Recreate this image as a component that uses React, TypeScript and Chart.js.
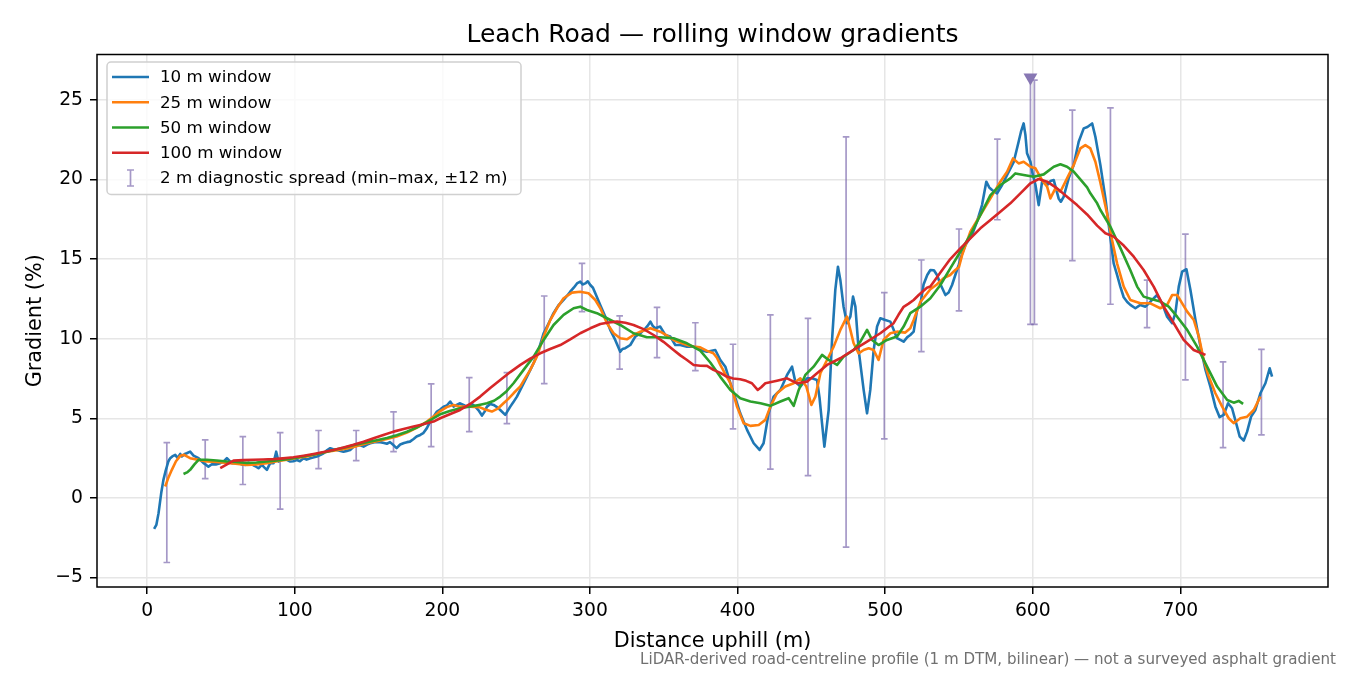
/**
 * Leach Road rolling-window gradient chart.
 * Chart.js line chart: four smoothing windows plus 2 m min–max spread bars.
 */
import React, { useEffect, useRef } from 'react';
import { Chart, registerables } from 'chart.js';

Chart.register(...registerables);

const FONT = '"DejaVu Sans", Verdana, sans-serif';

const chartTitle = 'Leach Road — rolling window gradients';
const xTitle = 'Distance uphill (m)';
const yTitle = 'Gradient (%)';
const footnote =
  'LiDAR-derived road-centreline profile (1 m DTM, bilinear) — not a surveyed asphalt gradient';

const xTicks = [0, 100, 200, 300, 400, 500, 600, 700];
const yTicks = [-5, 0, 5, 10, 15, 20, 25];

const seriesLabels = ['10 m window', '25 m window', '50 m window', '100 m window'];
const seriesColors = ['#1f77b4', '#ff7f0e', '#2ca02c', '#d62728'];
const spreadLabel = '2 m diagnostic spread (min–max, ±12 m)';
const SPREAD_COLOR = 'rgba(118, 98, 170, 0.66)';
const PEAK_COLOR = '#8777b3';

// [distance m, gradient %]
const window10m: [number, number][] = [
  [4.7, -1.95], [6.2, -1.7], [7.7, -0.96], [9.5, 0.3], [11, 1.13], [12.5, 1.7], [14.4, 2.3],
  [15.6, 2.49], [17, 2.6], [19, 2.7], [20.6, 2.5], [22.4, 2.76], [23.5, 2.6], [25.5, 2.75],
  [26.8, 2.8], [29.1, 2.9], [31.4, 2.65], [34.8, 2.49], [38.2, 2.18], [40, 2.07], [41.5, 1.96],
  [43.8, 2.11], [46.5, 2.1], [49.5, 2.18], [52, 2.3], [54, 2.49], [56, 2.3], [57.4, 2.18],
  [60, 2.2], [61.9, 2.18], [64, 2.1], [66.4, 2.07], [68.5, 2.2], [70.9, 2.11], [73, 2.0],
  [75.4, 1.86], [77.7, 2.07], [79.5, 1.9], [81.1, 1.76], [83.3, 2.18], [85.6, 2.18], [87.4, 2.9],
  [89, 2.28], [90.5, 2.4], [92.3, 2.49], [94.7, 2.39], [96.9, 2.28], [99, 2.3], [101.4, 2.38],
  [103.5, 2.3], [105.9, 2.49], [108, 2.4], [110.5, 2.49], [113, 2.55], [115, 2.6], [117.5, 2.7],
  [119.5, 2.8], [122, 3.0], [124, 3.12], [126, 3.05], [128.5, 3.0], [131, 2.95], [133, 2.9],
  [135.3, 2.95], [137.5, 3.0], [139.8, 3.2], [142.1, 3.33], [144.3, 3.3], [146.6, 3.22],
  [149, 3.35], [151.1, 3.43], [154, 3.5], [157.9, 3.5], [160.5, 3.45], [162.4, 3.4],
  [164.5, 3.5], [167, 3.3], [169, 3.12], [171.4, 3.35], [174, 3.45], [176, 3.5], [178, 3.53],
  [180.5, 3.7], [182.5, 3.85], [185, 3.95], [187, 4.06], [189.5, 4.38], [191.8, 4.8],
  [194, 5.1], [196.3, 5.42], [198.5, 5.55], [200.8, 5.73], [203, 5.8], [205.3, 6.05],
  [207.6, 5.73], [210, 5.85], [212, 5.94], [215, 5.8], [217.6, 5.73], [220, 5.9], [222.3, 5.73],
  [224.5, 5.5], [226.8, 5.17], [228.5, 5.4], [230.2, 5.73], [232.5, 5.9], [234.7, 5.84],
  [237, 5.7], [239.2, 5.52], [242.6, 5.21], [246, 5.73], [248, 6.0], [250.5, 6.36], [253.9, 6.99],
  [257.3, 7.62], [261.8, 8.46], [265.2, 9.29], [268.6, 10.34], [272, 10.97], [275.3, 11.6],
  [278.7, 12.1], [282.1, 12.43], [284.5, 12.7], [286.6, 12.95], [289, 13.2], [291.2, 13.47],
  [293.4, 13.58], [295, 13.4], [296.8, 13.47], [298.5, 13.6], [300.2, 13.37], [302, 13.2],
  [303.6, 12.85], [307, 12.1], [310.4, 11.38], [313.7, 10.55], [317.1, 9.92], [320.5, 9.18],
  [322, 9.35], [323.9, 9.4], [327.3, 9.6], [330.7, 10.13], [334.1, 10.34], [337.5, 10.65],
  [339, 10.8], [340.9, 11.07], [342.5, 10.8], [344.2, 10.65], [347.6, 10.76], [351, 10.23],
  [354.4, 10.13], [357.8, 9.6], [361.2, 9.6], [365.7, 9.5], [370.2, 9.5], [374.7, 9.29],
  [379.3, 9.18], [384.9, 9.29], [388.3, 8.66], [391.7, 8.24], [395.1, 7.2], [398.5, 6.26],
  [401.8, 5.31], [406.4, 4.27], [410.9, 3.43], [414.9, 3.01], [417.6, 3.43], [421, 5.31],
  [424.4, 6.36], [429, 6.78], [433.5, 7.72], [436.9, 8.24], [439.1, 7.3], [442.5, 6.99],
  [447, 7.51], [450.4, 7.51], [453.8, 7.41], [455.5, 6.3], [457.2, 4.69], [458.8, 3.22],
  [461.7, 5.52], [464, 9.92], [466.2, 13.06], [468, 14.52], [469.6, 13.69], [471.8, 12.01],
  [474.1, 10.97], [476.4, 11.38], [478.2, 12.64], [479.8, 12.01], [482, 9.29], [485.4, 6.78],
  [487.7, 5.31], [489.9, 6.78], [492.2, 9.29], [494.5, 10.76], [496.7, 11.28], [500.1, 11.17],
  [503.5, 11.07], [506, 10.5], [508, 10.03], [510.3, 9.92], [512.5, 9.81], [515, 10.1],
  [517, 10.23], [519.3, 10.44], [521.6, 11.8], [523.8, 12.12], [526, 13.4], [528.5, 14.0],
  [530.6, 14.31], [533, 14.3], [535.1, 14.0], [537.5, 13.4], [540.8, 12.74], [543, 12.9],
  [545.3, 13.37], [547.5, 14.0], [549.8, 14.63], [552, 15.3], [554.3, 15.88], [556.5, 16.2],
  [558.8, 16.51], [562.2, 17.35], [565.6, 18.39], [568.5, 19.86], [570.5, 19.5], [572.4, 19.34],
  [575.8, 19.13], [579.2, 19.65], [582.6, 20.28], [587.1, 21.11], [590.4, 22.37], [592, 23.0],
  [593.8, 23.52], [595, 22.8], [596.1, 21.64], [598.4, 21.11], [600, 20.3], [601.8, 19.65],
  [604, 18.39], [606.3, 19.86], [609.7, 19.65], [612, 19.9], [614.2, 19.96], [617.5, 18.81],
  [619, 18.6], [620.9, 18.91], [624.3, 20.07], [627.7, 20.9], [631.1, 22.37], [634.5, 23.21],
  [637, 23.3], [640.2, 23.52], [642.4, 22.68], [645.8, 20.9], [649.2, 18.81], [652.6, 16.3],
  [654.8, 14.73], [657.1, 14.0], [659.3, 13.27], [661.6, 12.6], [664, 12.3], [666.1, 12.12],
  [669.5, 11.91], [672.9, 12.12], [676.3, 12.01], [678.5, 12.2], [680.8, 12.43], [684.2, 12.74],
  [687.6, 12.22], [691, 11.38], [694.4, 10.97], [696.6, 11.6], [698.9, 13.27], [701.2, 14.21],
  [704.1, 14.36], [706.8, 13.06], [710.2, 11.17], [713.6, 9.5], [717, 8.04], [720.3, 6.99],
  [723.7, 5.73], [726.6, 5.07], [729.3, 5.21], [732.3, 5.94], [735, 5.63], [738.4, 4.48],
  [740.2, 3.85], [742.9, 3.6], [745.2, 4.16], [747.9, 5.1], [750.8, 5.52], [754.2, 6.57],
  [757.6, 7.2], [760.5, 8.14], [762.1, 7.62],
];

const window25m: [number, number][] = [
  [12.2, 0.71], [14.5, 1.3], [16.7, 1.76], [19.5, 2.3], [22.4, 2.64], [25, 2.7], [29.1, 2.49],
  [34, 2.4], [40.4, 2.28], [47, 2.25], [54, 2.2], [60, 2.15], [67.5, 2.07], [74, 2.1],
  [81.1, 2.17], [88, 2.3], [94.7, 2.39], [101, 2.5], [108.2, 2.6], [115, 2.75], [121.8, 2.9],
  [128.5, 3.0], [135.3, 3.1], [142, 3.25], [148.9, 3.43], [155.5, 3.55], [162.4, 3.7],
  [169, 3.85], [176, 4.1], [182.5, 4.4], [189.5, 4.79], [194, 5.1], [198.5, 5.45], [203, 5.7],
  [207.6, 5.84], [212, 5.73], [218.8, 5.73], [225, 5.7], [229, 5.55], [233.5, 5.42],
  [237.5, 5.6], [241.4, 5.94], [244.5, 6.2], [248.2, 6.57], [252.8, 7.0], [256, 7.5],
  [259.5, 8.04], [264, 8.87], [268.6, 10.13], [273.1, 11.17], [277.6, 11.91], [282.1, 12.54],
  [287.8, 12.89], [293.4, 12.95], [299, 12.85], [303.6, 12.43], [307, 11.91], [311.5, 10.97],
  [316, 10.34], [320.5, 10.03], [325, 9.96], [329.5, 10.23], [334.1, 10.44], [340.9, 10.65],
  [347.6, 10.44], [352, 10.2], [356.6, 9.92], [361, 9.75], [365.7, 9.6], [370, 9.5],
  [374.7, 9.45], [379, 9.25], [383.6, 9.08], [386, 8.8], [388.3, 8.35], [391.5, 7.8],
  [395.1, 7.2], [399.6, 5.73], [404.1, 4.69], [408.7, 4.52], [414.3, 4.58], [418.8, 4.9],
  [422.2, 5.73], [426.7, 6.57], [432.3, 6.99], [438, 7.2], [442.5, 7.51], [446.6, 6.99],
  [450, 5.84], [452.7, 6.36], [456.1, 7.83], [460.6, 8.66], [465.1, 9.5], [469.6, 10.55],
  [474.1, 11.38], [476.4, 10.55], [478.6, 9.71], [482, 9.08], [485.4, 9.29], [488.8, 9.4],
  [492.2, 9.29], [495.5, 8.66], [498.9, 9.92], [503.5, 10.34], [508, 10.44], [513.6, 10.38],
  [517, 10.65], [519.3, 11.17], [523.8, 12.3], [530.6, 13.1], [535, 13.4], [539.6, 13.8],
  [544, 14.0], [547.5, 14.31], [550, 14.5], [552.1, 15.25], [557.7, 16.72], [564.5, 17.77],
  [571.3, 18.81], [578, 19.86], [582.6, 20.49], [586.6, 21.32], [590.4, 21.01], [593.8, 21.11],
  [598.4, 20.8], [601.8, 20.7], [606.3, 19.96], [609.7, 19.55], [611.9, 18.81], [615.3, 19.44],
  [618.7, 19.23], [623.2, 20.07], [627.7, 20.9], [632.2, 21.95], [635.6, 22.16], [639, 21.95],
  [642.4, 21.11], [645.8, 19.8], [650.3, 17.87], [653.7, 16.2], [657.1, 14.73], [661.6, 13.27],
  [666.1, 12.43], [672.9, 12.22], [679.6, 12.22], [686.4, 11.91], [691, 12.12], [694.4, 12.74],
  [697.8, 12.74], [701.2, 12.22], [704.6, 11.7], [709.1, 11.17], [712.5, 10.13], [715.8, 8.66],
  [719.2, 7.62], [723.7, 6.57], [728.3, 5.73], [732.7, 5.0], [736.1, 4.69], [740.6, 5.0],
  [745.2, 5.1], [749.7, 5.52], [754.2, 6.36],
];

const window50m: [number, number][] = [
  [24.6, 1.5], [27, 1.6], [29.1, 1.76], [32, 2.1], [34.8, 2.39], [40.4, 2.39], [47, 2.35],
  [54, 2.28], [60, 2.25], [67.5, 2.2], [74, 2.22], [81.1, 2.28], [88, 2.35], [94.7, 2.43],
  [101, 2.52], [108.2, 2.64], [115, 2.76], [121.8, 2.9], [128.5, 3.05], [135.3, 3.2],
  [142, 3.36], [148.9, 3.5], [155.5, 3.62], [162.4, 3.76], [169, 3.93], [176, 4.15],
  [182.5, 4.42], [189.5, 4.75], [194, 5.0], [198.5, 5.25], [205, 5.45], [212, 5.63], [220, 5.75],
  [225.6, 5.85], [230.2, 5.94], [235, 6.1], [239.2, 6.36], [243.5, 6.7], [248.2, 7.2],
  [255, 8.04], [261.8, 8.87], [268.6, 9.92], [275.3, 10.86], [282.1, 11.49], [288.9, 11.91],
  [293.4, 12.01], [297.9, 11.8], [304.7, 11.6], [311.5, 11.28], [320.5, 10.86], [329.5, 10.34],
  [338.6, 10.09], [347.6, 10.09], [356.6, 10.03], [365.7, 9.71], [374.7, 9.25], [381.5, 8.5],
  [388.3, 7.6], [395.1, 6.78], [401.8, 6.26], [408.7, 6.05], [415.5, 5.94], [422.2, 5.78],
  [429, 6.05], [434.6, 6.26], [438, 5.78], [441.4, 6.78], [445.9, 7.72], [451.5, 8.24],
  [457.2, 8.98], [461.7, 8.66], [467.4, 8.35], [471.8, 8.87], [478.6, 9.29], [483.2, 9.81],
  [487.7, 10.55], [491.1, 9.92], [495.5, 9.6], [501.2, 9.92], [508, 10.13], [512.5, 10.76],
  [517, 11.6], [523.8, 12.01], [530.6, 12.54], [537.4, 13.37], [544.1, 14.42], [550.9, 15.46],
  [557.7, 16.51], [564.5, 17.77], [571.3, 19.02], [578, 19.65], [584.8, 20.07], [588.2, 20.38],
  [593.8, 20.28], [600.6, 20.17], [607.4, 20.32], [614.2, 20.8], [618.7, 20.95], [623.2, 20.8],
  [627.7, 20.49], [632.2, 20.0], [636.8, 19.5], [639, 19.13], [643.6, 18.5], [645.8, 18.08],
  [652.6, 17.03], [659.3, 15.7], [666.1, 14.3], [670.7, 13.27], [675.1, 12.64], [680.8, 12.47],
  [686.4, 12.33], [692.1, 12.01], [697.8, 11.38], [704.6, 10.55], [711.3, 9.5], [718.1, 8.24],
  [724.9, 6.99], [731.7, 6.15], [736.1, 5.98], [739.5, 6.09], [742.5, 5.9],
];

const window100m: [number, number][] = [
  [49.5, 1.86], [54, 2.1], [58.5, 2.34], [65, 2.37], [72, 2.39], [78.5, 2.41], [85.6, 2.43],
  [92, 2.48], [99.1, 2.55], [106, 2.65], [112.7, 2.76], [119.5, 2.88], [126.2, 3.01],
  [133, 3.16], [139.8, 3.33], [146.6, 3.53], [153.4, 3.75], [160, 3.95], [166.9, 4.16],
  [173.7, 4.32], [180.5, 4.48], [185, 4.58], [194, 4.79], [198.5, 5.0], [205, 5.25],
  [212, 5.52], [218.8, 5.9], [225.6, 6.36], [232.4, 6.9], [239.2, 7.41], [246, 7.9],
  [252.8, 8.35], [259.5, 8.75], [266.3, 9.08], [273, 9.35], [279.9, 9.6], [286.6, 9.95],
  [293.4, 10.34], [300.2, 10.65], [307, 10.92], [312.6, 11.02], [318.3, 11.07], [324, 11.0],
  [329.5, 10.86], [336.3, 10.6], [343.1, 10.23], [349.8, 9.8], [356.6, 9.29], [361.2, 8.95],
  [365.7, 8.66], [370.2, 8.35], [374.7, 8.3], [379.3, 8.29], [383.6, 8.04], [388.3, 7.85],
  [392.6, 7.62], [397, 7.5], [401.8, 7.45], [405.8, 7.35], [409.7, 7.2], [413.6, 6.78],
  [416, 6.95], [418.8, 7.2], [426.7, 7.36], [433.5, 7.51], [437, 7.35], [440.3, 7.2],
  [447, 7.3], [453.8, 7.83], [460.6, 8.35], [469.6, 8.77], [478.6, 9.29], [487.7, 9.81],
  [496.7, 10.34], [505.7, 10.97], [509, 11.5], [512.5, 12.0], [515.9, 12.2], [519.3, 12.43],
  [522.7, 12.74], [528.3, 13.2], [530.6, 13.27], [537.4, 14.15], [544.1, 15.0], [550.9, 15.67],
  [557.7, 16.3], [564.5, 16.93], [571.3, 17.45], [578, 17.97], [584.8, 18.5], [591.6, 19.13],
  [598.4, 19.76], [604, 20.03], [609.7, 19.86], [616.5, 19.44], [623.2, 18.91], [630, 18.39],
  [636.8, 17.8], [643.6, 17.1], [649.2, 16.62], [654.8, 16.41], [661.6, 15.85], [668.4, 15.15],
  [675.1, 14.31], [681.9, 13.27], [688.7, 12.01], [695.5, 10.97], [702.2, 9.92], [709, 9.29],
  [717, 8.98],
];

// 2 m diagnostic spread: bar positions with min / max gradient
const spreadDist = [
  13.3, 39.3, 64.8, 90.1, 116.1, 141.6, 166.9, 192.4, 218.2, 243.7, 269, 294.6, 320.1, 345.4,
  371.4, 396.9, 422.2, 447.7, 473.5, 499.4, 524.5, 550, 576, 598.4, 601.1, 626.8, 652.6, 677.4,
  703.4, 728.9, 754.9,
];
const spreadMin = [
  -4.06, 1.21, 0.84, -0.71, 1.84, 2.34, 2.9, 3.22, 4.16, 4.66, 7.18, 11.7, 8.08, 8.81, 7.99,
  4.33, 1.8, 1.4, -3.1, 3.7, 9.18, 11.74, 17.47, 10.9, 10.9, 14.9, 12.16, 10.69, 7.41, 3.16, 3.95,
];
const spreadMax = [
  3.47, 3.64, 3.85, 4.1, 4.23, 4.23, 5.4, 7.16, 7.55, 7.87, 12.68, 14.73, 11.43, 11.97, 11.0,
  9.65, 11.49, 11.27, 22.68, 12.89, 14.94, 16.89, 22.54, 26.3, 26.24, 24.36, 24.5, 13.68, 16.57,
  8.54, 9.33,
];
const peakMarker = { x: 598.4, y: 26.4 };

const allSeries = [window10m, window25m, window50m, window100m];

const fmtTick = (v: number) => (v < 0 ? `\u2212${Math.abs(v)}` : `${v}`);

// error bars drawn beneath the lines, through the chart's own scales
const spreadPlugin = {
  id: 'spreadBars',
  beforeDatasetsDraw(chart: Chart) {
    const { ctx, chartArea, scales } = chart;
    const xs = scales.x;
    const ys = scales.y;
    ctx.save();
    ctx.beginPath();
    ctx.rect(chartArea.left, chartArea.top, chartArea.width, chartArea.height);
    ctx.clip();
    ctx.strokeStyle = SPREAD_COLOR;
    ctx.lineWidth = 1.7;
    const cap = 3.3;
    spreadDist.forEach((d, i) => {
      const px = xs.getPixelForValue(d);
      const lo = ys.getPixelForValue(spreadMin[i]);
      const hi = ys.getPixelForValue(spreadMax[i]);
      ctx.beginPath();
      ctx.moveTo(px, lo);
      ctx.lineTo(px, hi);
      ctx.moveTo(px - cap, lo);
      ctx.lineTo(px + cap, lo);
      ctx.moveTo(px - cap, hi);
      ctx.lineTo(px + cap, hi);
      ctx.stroke();
    });
    ctx.restore();
  },
};

// title over the axes, full axes box, in-plot legend and the footnote
const decorPlugin = {
  id: 'decor',
  afterDraw(chart: Chart) {
    const { ctx, chartArea } = chart;
    ctx.save();
    ctx.fillStyle = '#000';
    ctx.font = `25px ${FONT}`;
    ctx.textAlign = 'center';
    ctx.textBaseline = 'middle';
    ctx.fillText(chartTitle, (chartArea.left + chartArea.right) / 2, 35);

    ctx.strokeStyle = '#000';
    ctx.lineWidth = 1.5;
    ctx.strokeRect(chartArea.left, chartArea.top, chartArea.width, chartArea.height);

    // legend box
    const bx = chartArea.left + 10;
    const by = chartArea.top + 7.5;
    const bw = 414;
    const bh = 132.5;
    const r = 4;
    ctx.beginPath();
    ctx.moveTo(bx + r, by);
    ctx.arcTo(bx + bw, by, bx + bw, by + bh, r);
    ctx.arcTo(bx + bw, by + bh, bx, by + bh, r);
    ctx.arcTo(bx, by + bh, bx, by, r);
    ctx.arcTo(bx, by, bx + bw, by, r);
    ctx.closePath();
    ctx.fillStyle = 'rgba(255,255,255,0.8)';
    ctx.fill();
    ctx.strokeStyle = '#d0d0d0';
    ctx.lineWidth = 1.5;
    ctx.stroke();

    ctx.font = `16.7px ${FONT}`;
    ctx.textBaseline = 'middle';
    ctx.textAlign = 'left';
    const rowGap = 25.25;
    const labels = [...seriesLabels, spreadLabel];
    labels.forEach((label, i) => {
      const cy = by + 15 + i * rowGap;
      if (i < seriesColors.length) {
        ctx.strokeStyle = seriesColors[i];
        ctx.lineWidth = 2.6;
        ctx.beginPath();
        ctx.moveTo(bx + 5, cy);
        ctx.lineTo(bx + 42, cy);
        ctx.stroke();
      } else {
        const cx = bx + 23.5;
        ctx.strokeStyle = SPREAD_COLOR;
        ctx.lineWidth = 1.7;
        ctx.beginPath();
        ctx.moveTo(cx, cy - 8);
        ctx.lineTo(cx, cy + 8);
        ctx.moveTo(cx - 3.5, cy - 8);
        ctx.lineTo(cx + 3.5, cy - 8);
        ctx.moveTo(cx - 3.5, cy + 8);
        ctx.lineTo(cx + 3.5, cy + 8);
        ctx.stroke();
      }
      ctx.fillStyle = '#000';
      ctx.fillText(label, bx + 53, cy + 1);
    });

    ctx.font = `15.1px ${FONT}`;
    ctx.fillStyle = '#707070';
    ctx.textAlign = 'right';
    ctx.fillText(footnote, chart.width - 14, chart.height - 15);
    ctx.restore();
  },
};

const App: React.FC = () => {
  const canvasRef = useRef<HTMLCanvasElement>(null);
  const chartInstance = useRef<Chart | null>(null);

  useEffect(() => {
    document.body.style.margin = '0';
    if (!canvasRef.current) return;
    const ctx = canvasRef.current.getContext('2d');
    if (!ctx) return;

    if (chartInstance.current) {
      chartInstance.current.destroy();
    }

    const lineSets = allSeries.map((series, i) => ({
      type: 'line' as const,
      label: seriesLabels[i],
      data: series.map(([x, y]) => ({ x, y })),
      borderColor: seriesColors[i],
      backgroundColor: seriesColors[i],
      borderWidth: 2.6,
      borderJoinStyle: 'round' as const,
      pointRadius: 0,
      tension: 0,
      fill: false,
      order: 4 - i,
    }));

    chartInstance.current = new Chart(ctx, {
      type: 'line',
      data: {
        datasets: [
          ...lineSets,
          {
            type: 'scatter',
            label: 'peak',
            data: [peakMarker],
            pointStyle: 'triangle',
            rotation: 180,
            pointRadius: 8,
            backgroundColor: PEAK_COLOR,
            borderWidth: 0,
            showLine: false,
            order: 0,
          },
        ],
      },
      options: {
        responsive: false,
        animation: false,
        events: [],
        layout: { padding: { left: 0, right: 22, top: 54.5, bottom: 13 } },
        plugins: {
          legend: { display: false },
          tooltip: { enabled: false },
          title: { display: false },
        },
        scales: {
          x: {
            type: 'linear',
            min: -34,
            max: 800,
            afterBuildTicks: (s) => {
              s.ticks = xTicks.map((v) => ({ value: v }));
            },
            afterFit: (s) => {
              s.height = 75;
            },
            ticks: {
              color: '#000',
              font: { family: FONT, size: 18.75 },
              padding: 6.3,
              maxRotation: 0,
              autoSkip: false,
              callback: (v) => fmtTick(Number(v)),
            },
            grid: {
              color: '#e6e6e6',
              lineWidth: 1.5,
              tickColor: '#000',
              tickLength: 7,
              tickWidth: 1.5,
            },
            border: { display: false },
            title: {
              display: true,
              text: xTitle,
              color: '#000',
              font: { family: FONT, size: 20.8 },
              padding: { top: 0, bottom: 8.1 },
            },
          },
          y: {
            type: 'linear',
            min: -5.6,
            max: 27.85,
            afterBuildTicks: (s) => {
              s.ticks = yTicks.map((v) => ({ value: v }));
            },
            afterFit: (s) => {
              s.width = 97;
            },
            ticks: {
              color: '#000',
              font: { family: FONT, size: 18.75 },
              padding: 7,
              autoSkip: false,
              callback: (v) => fmtTick(Number(v)),
            },
            grid: {
              color: '#e6e6e6',
              lineWidth: 1.5,
              tickColor: '#000',
              tickLength: 7,
              tickWidth: 1.5,
            },
            border: { display: false },
            title: {
              display: true,
              text: yTitle,
              color: '#000',
              font: { family: FONT, size: 20.8 },
              padding: { top: 23.4, bottom: 0 },
            },
          },
        },
      },
      plugins: [spreadPlugin, decorPlugin],
    });

    return () => {
      if (chartInstance.current) {
        chartInstance.current.destroy();
        chartInstance.current = null;
      }
    };
  }, []);

  return (
    <div style={{ width: 1350, height: 675, background: '#fff' }}>
      <canvas ref={canvasRef} width={1350} height={675} />
    </div>
  );
};

export default App;
